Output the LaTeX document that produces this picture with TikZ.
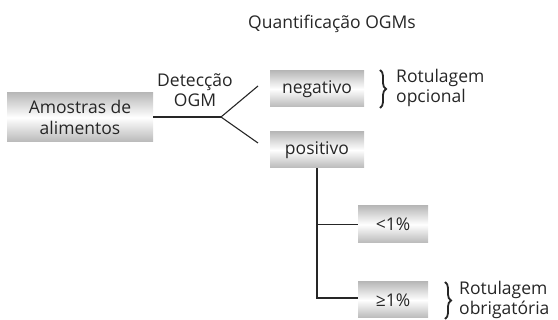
\documentclass[tikz,border=0pt]{standalone}
\usepackage{fontspec}
\setmainfont{Open Sans}
\usetikzlibrary{decorations.pathreplacing}
\tikzset{
  gbox/.style={rectangle, inner sep=0pt, top color=gray!55, bottom color=gray!55, middle color=white, font=\fontsize{17.5}{20.5}\selectfont, align=center, text=black!85},
  lbl/.style={font=\fontsize{17.5}{20.5}\selectfont, align=left, inner sep=0pt, text=black!85},
  conn/.style={line width=1.1pt, black!85},
  brc/.style={decorate, decoration={brace, amplitude=6pt}, line width=1.8pt, black!85}
}
\begin{document}
\begin{tikzpicture}[x=1pt,y=-1pt]
\useasboundingbox (0,0) rectangle (558,320);
\node[gbox, minimum width=146pt, minimum height=49pt] (am) at (80,117.5) {Amostras de\\alimentos};
\node[gbox, minimum width=94pt, minimum height=36pt] (neg) at (317,89) {negativo};
\node[gbox, minimum width=94pt, minimum height=36pt] (pos) at (317,150) {positivo};
\node[gbox, minimum width=70pt, minimum height=37pt] (lt) at (393,224.5) {<1\%};
\node[gbox, minimum width=70pt, minimum height=36pt] (ge) at (393,300) {≥1\%};
\node[lbl, align=center] (det) at (195,90) {Detecção\\OGM};
\node[lbl, anchor=base] (title) at (332,29) {Quantificação OGMs};
\coordinate (j) at (221,117);
\coordinate (nb) at (258,86);
\coordinate (pb) at (258,143);
\draw[conn] (am.east |- j) -- (j);
\draw[conn] (j) -- (nb);
\draw[conn] (j) -- (pb);
\coordinate (bot) at (317,298);
\draw[conn] (pos.south) -- (bot) -- (ge.west |- bot);
\draw[conn] (pos.south |- lt.west) -- (lt.west);
\draw[brc] (380,70) -- (380,108);
\node[lbl, anchor=west] (r1) at (396,88) {Rotulagem\\opcional};
\draw[brc] (445,282) -- (445,319);
\node[lbl, anchor=west] (r2) at (459,300) {Rotulagem\\obrigatória};
\end{tikzpicture}
\end{document}
